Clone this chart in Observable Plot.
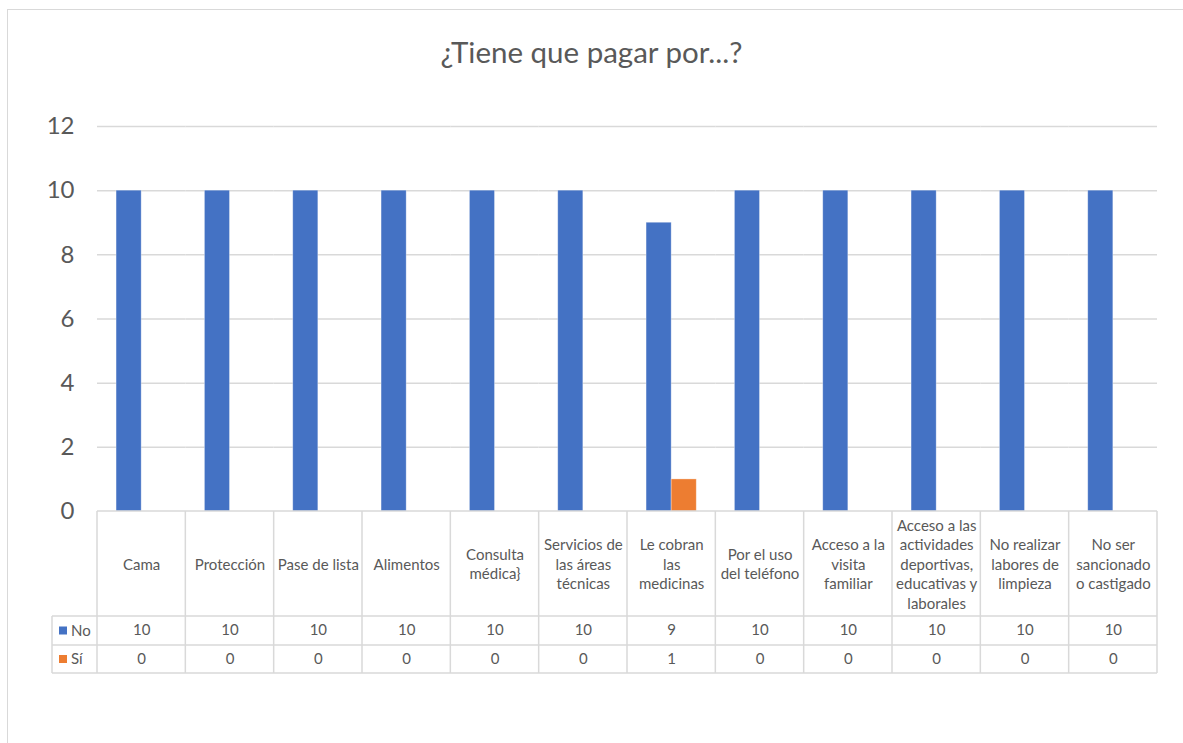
<!DOCTYPE html>
<html>
<head>
<meta charset="utf-8">
<script src="https://cdn.jsdelivr.net/npm/d3@7"></script>
<script src="https://cdn.jsdelivr.net/npm/@observablehq/plot@0.6"></script>
<style>
  html, body { margin: 0; padding: 0; background: #fff; }
  #wrap { position: relative; width: 1183px; height: 743px; overflow: hidden; font-family: Lato, "Open Sans", sans-serif; }
  #border { position: absolute; left: 7px; top: 9px; width: 1300px; height: 900px; border: 1.5px solid #d9d9d9; box-sizing: border-box; }
  #title { position: absolute; left: 0; top: 35px; width: 1183px; text-align: center; font-size: 29.5px; line-height: 34px; color: #595959; }
  #chart { position: absolute; left: 0; top: 0; }
</style>
</head>
<body>
<div id="wrap">
  <div id="border"></div>
  <div id="chart"></div>
  <div id="title">¿Tiene que pagar por...?</div>
</div>
<script>
const categories = [
  "Cama",
  "Protección",
  "Pase de lista",
  "Alimentos",
  "Consulta\nmédica}",
  "Servicios de\nlas áreas\ntécnicas",
  "Le cobran\nlas\nmedicinas",
  "Por el uso\ndel teléfono",
  "Acceso a la\nvisita\nfamiliar",
  "Acceso a las\nactividades\ndeportivas,\neducativas y\nlaborales",
  "No realizar\nlabores de\nlimpieza",
  "No ser\nsancionado\no castigado"
];
const seriesNames = ["No", "Sí"];
const noValues = [10, 10, 10, 10, 10, 10, 9, 10, 10, 10, 10, 10];
const siValues = [0, 0, 0, 0, 0, 0, 1, 0, 0, 0, 0, 0];
const yTicks = [0, 2, 4, 6, 8, 10, 12];
const seriesColors = ["#4472C4", "#ED7D31"];

const rows = categories.flatMap((c, i) => [
  {cat: c, series: "No", value: noValues[i]},
  {cat: c, series: "Sí", value: siValues[i]}
]);

const textColor = "#595959";
const gridColor = "#d9d9d9";
const tableFont = 15;

const plot = Plot.plot({
  width: 1183,
  height: 743,
  marginTop: 126,
  marginBottom: 232,
  marginLeft: 97,
  marginRight: 26,
  style: {fontFamily: "Lato, 'Open Sans', sans-serif", color: textColor, background: "transparent", overflow: "visible"},
  fx: {domain: categories, padding: 0, round: false, axis: null, label: null},
  x: {domain: seriesNames, paddingInner: 0, paddingOuter: 0.76, round: false, axis: null, label: null},
  y: {domain: [0, 12], label: null},
  color: {domain: seriesNames, range: seriesColors},
  marks: [
    Plot.ruleY(yTicks.filter(t => t > 0), {stroke: gridColor, strokeWidth: 1.5, strokeOpacity: 1}),
    Plot.axisY({ticks: yTicks, tickSize: 0, tickPadding: 23, fontSize: 24, fill: textColor, label: null}),
    Plot.barY(rows, {fx: "cat", x: "series", y: "value", fill: "series", stroke: "#ffffff", strokeOpacity: 0.4, strokeWidth: 0.8}),
    Plot.text(categories, {fx: d => d, text: d => d, frameAnchor: "bottom", dy: 52, lineAnchor: "middle", fontSize: tableFont, lineHeight: 1.3, fill: textColor}),
    Plot.text(rows.filter(d => d.series === "No"), {fx: "cat", text: d => String(d.value), frameAnchor: "bottom", dy: 119, lineAnchor: "middle", fontSize: tableFont, fill: textColor}),
    Plot.text(rows.filter(d => d.series === "Sí"), {fx: "cat", text: d => String(d.value), frameAnchor: "bottom", dy: 148, lineAnchor: "middle", fontSize: tableFont, fill: textColor})
  ]
});

// Data-table grid and legend keys, positioned with the plot's own scales
const fxs = plot.scale("fx");
const ys = plot.scale("y");
const colorS = plot.scale("color");
const band = d3.scaleBand().domain(fxs.domain).range(fxs.range).padding(0);
const y0 = ys.apply ? ys.apply(0) : ys.range[0];
const x0 = band.range()[0], x1 = band.range()[1];
const rowTops = [y0, y0 + 105, y0 + 134, y0 + 162];
const legendLeft = 52;
const svg = d3.select(plot.tagName.toLowerCase() === "svg" ? plot : plot.querySelector("svg"));
const g = svg.append("g").attr("stroke", gridColor).attr("stroke-width", 1.5).attr("fill", "none");
g.append("line").attr("x1", x0).attr("x2", x1).attr("y1", rowTops[0]).attr("y2", rowTops[0]);
for (let r = 1; r < rowTops.length; r++) {
  g.append("line").attr("x1", legendLeft).attr("x2", x1).attr("y1", rowTops[r]).attr("y2", rowTops[r]);
}
for (const c of band.domain()) {
  g.append("line").attr("x1", band(c)).attr("x2", band(c)).attr("y1", rowTops[0]).attr("y2", rowTops[3]);
}
g.append("line").attr("x1", x1).attr("x2", x1).attr("y1", rowTops[0]).attr("y2", rowTops[3]);
g.append("line").attr("x1", legendLeft).attr("x2", legendLeft).attr("y1", rowTops[1]).attr("y2", rowTops[3]);

const lg = svg.append("g").attr("text-anchor", "start");
seriesNames.forEach((s, i) => {
  const cy = (rowTops[i + 1] + rowTops[i + 2]) / 2;
  lg.append("rect").attr("x", 59).attr("y", cy - 4).attr("width", 8).attr("height", 8).attr("fill", colorS.range[i]);
  lg.append("text").attr("x", 71).attr("y", cy).attr("dy", "0.35em").attr("fill", textColor)
    .attr("text-anchor", "start")
    .attr("font-size", tableFont).attr("font-family", "Lato, 'Open Sans', sans-serif").text(s);
});

document.getElementById("chart").appendChild(plot);
</script>
</body>
</html>
